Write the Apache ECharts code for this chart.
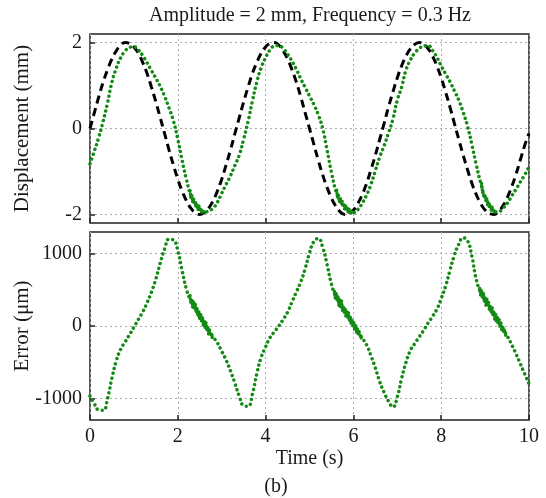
<!DOCTYPE html>
<html>
<head>
<meta charset="utf-8">
<script src="https://cdn.jsdelivr.net/npm/echarts@6/dist/echarts.min.js"></script>
<style>
html,body{margin:0;padding:0;background:#fff;}
#chart{width:546px;height:498px;}
</style>
</head>
<body>
<div id="chart"></div>
<script>
// ---------- data ----------
const titleText = 'Amplitude = 2 mm, Frequency = 0.3 Hz';
const xTicks = [0, 2, 4, 6, 8, 10];
const dispTicks = [-2, 0, 2];
const errTicks = [-1000, 0, 1000];

// sample times 0..10 s every 0.1 s
const sampleStep = 0.1;

// reference (black dashed) displacement, mm
const refDisp = [
 0.00, 0.37, 0.74, 1.08, 1.37, 1.62, 1.81, 1.94, 2.00, 1.98,
 1.90, 1.75, 1.54, 1.28, 0.96, 0.62, 0.25, -0.12, -0.50, -0.85,
 -1.18, -1.46, -1.69, -1.86, -1.96, -2.00, -1.96, -1.86, -1.69, -1.46,
 -1.18, -0.85, -0.50, -0.12, 0.25, 0.62, 0.96, 1.28, 1.54, 1.75,
 1.90, 1.98, 2.00, 1.94, 1.81, 1.62, 1.37, 1.08, 0.74, 0.37,
 0.00, -0.37, -0.74, -1.08, -1.37, -1.62, -1.81, -1.94, -2.00, -1.98,
 -1.90, -1.75, -1.54, -1.28, -0.96, -0.62, -0.25, 0.12, 0.50, 0.85,
 1.18, 1.46, 1.69, 1.86, 1.96, 2.00, 1.96, 1.86, 1.69, 1.46,
 1.18, 0.85, 0.50, 0.12, -0.25, -0.62, -0.96, -1.28, -1.54, -1.75,
 -1.90, -1.98, -2.00, -1.94, -1.81, -1.62, -1.37, -1.08, -0.74, -0.40,
 -0.12
];

// measured (green dotted) displacement, mm
const measDisp = [
 -0.82, -0.52, -0.20, 0.17, 0.60, 1.08, 1.41, 1.65, 1.80, 1.89,
 1.90, 1.83, 1.70, 1.53, 1.35, 1.17, 0.98, 0.75, 0.48, 0.18,
 -0.25, -0.75, -1.20, -1.56, -1.75, -1.88, -1.95, -1.92, -1.86, -1.72,
 -1.51, -1.30, -1.10, -0.86, -0.62, -0.25, 0.16, 0.64, 1.08, 1.42,
 1.65, 1.83, 1.92, 1.93, 1.86, 1.73, 1.57, 1.38, 1.16, 0.96,
 0.76, 0.56, 0.32, 0.00, -0.50, -1.02, -1.45, -1.68, -1.82, -1.92,
 -1.96, -1.89, -1.74, -1.55, -1.30, -0.98, -0.66, -0.40, -0.10, 0.22,
 0.66, 0.97, 1.37, 1.60, 1.76, 1.86, 1.92, 1.93, 1.82, 1.66,
 1.46, 1.27, 1.09, 0.88, 0.66, 0.38, 0.05, -0.38, -0.85, -1.27,
 -1.60, -1.78, -1.92, -1.94, -1.86, -1.75, -1.58, -1.42, -1.25, -1.08,
 -0.90
];

// tracking error, µm
const errorVals = [
 -968, -1080, -1160, -1165, -1000, -720, -480, -320, -220, -120,
 -15, 90, 195, 320, 470, 650, 870, 1065, 1200, 1190,
 1040, 760, 500, 348, 246, 145, 43, -59, -150, -230,
 -350, -470, -620, -790, -970, -1100, -1110, -940, -660, -430,
 -290, -160, -80, 0, 90, 190, 330, 470, 610, 790,
 1010, 1170, 1210, 1090, 850, 580, 408, 311, 214, 118,
 22, -75, -165, -260, -410, -580, -770, -920, -1040, -1120,
 -980, -720, -500, -335, -240, -150, -60, 40, 130, 230,
 380, 550, 770, 980, 1130, 1220, 1180, 960, 640, 464,
 365, 265, 166, 66, -34, -133, -250, -380, -520, -660,
 -800
];

// noisy (thick) stretches, sampled every 0.02 s
const noiseStep = 0.02;
const dispNoiseStart = [2.28, 5.62, 8.92];
const dispNoise1 = [-1.45, -1.61, -1.56, -1.71, -1.64, -1.76, -1.69, -1.83, -1.77, -1.89, -1.81, -1.92, -1.85, -1.95, -1.90, -1.97, -1.93];
const dispNoise2 = [-1.44, -1.60, -1.55, -1.70, -1.63, -1.76, -1.68, -1.81, -1.75, -1.87, -1.80, -1.91, -1.83, -1.94, -1.88, -1.96, -1.91, -1.97, -1.94];
const dispNoise3 = [-1.28, -1.46, -1.43, -1.61, -1.55, -1.69, -1.63, -1.78, -1.73, -1.85, -1.78, -1.90, -1.83, -1.94, -1.89, -1.96, -1.92];

const errNoiseStart = [2.28, 5.57, 8.88];
const errNoise1 = [418, 308, 363, 252, 332, 237, 306, 181, 246, 135, 195, 85, 174, 69, 129, 13, 83, -22, 57, -58, -3, -109, -39, -129, -95, -160, -150];
const errNoise2 = [477, 373, 453, 344, 410, 285, 366, 262, 342, 213, 279, 179, 255, 126, 206, 112, 183, 63, 129, 20, 95, -9, 47, -63, 23, -86, -36, -120, -79, -144, -128, -172];
const errNoise3 = [519, 414, 489, 384, 459, 340, 405, 285, 375, 270, 330, 210, 285, 180, 265, 145, 201, 96, 171, 51, 126, 31, 96, -19, 46, -54, 1, -84, -49, -118, -93, -148, -143];

// ---------- build ----------
function pairs(vals, t0, step) {
  return vals.map((v, i) => [+(t0 + i * step).toFixed(3), v]);
}
const GREEN = '#138a13';
const FONT = 'Liberation Serif';
const TXT = '#1a1a1a';

const dotStyle = { color: GREEN, width: 3.5, type: [0.01, 5], cap: 'round' };

function noiseSeries(vals, t0, xi, yi) {
  return {
    type: 'line', xAxisIndex: xi, yAxisIndex: yi, data: pairs(vals, t0, noiseStep),
    showSymbol: false, smooth: false, lineStyle: Object.assign({}, dotStyle, { type: [0.01, 3.2] }),
    silent: true, z: 4
  };
}

const grids = [
  { left: 90, right: 17, top: 34, height: 189, show: true, borderColor: '#222', borderWidth: 1.5,
    backgroundColor: 'transparent', containLabel: false, outerBoundsMode: 'none' },
  { left: 90, right: 17, top: 232, height: 188, show: true, borderColor: '#222', borderWidth: 1.5,
    backgroundColor: 'transparent', containLabel: false, outerBoundsMode: 'none' }
];

function xAxis(gi, showLabels) {
  return {
    type: 'value', gridIndex: gi, min: 0, max: 10, interval: 2, position: 'bottom',
    axisLine: { show: false, onZero: false },
    axisTick: { show: true, inside: true, length: 5, lineStyle: { color: '#222', width: 1.5 } },
    axisLabel: { show: showLabels, fontFamily: FONT, fontSize: 20, color: TXT, margin: 7,
                 formatter: v => String(v) },
    splitLine: { show: true, lineStyle: { color: '#aaa', width: 1, type: [2, 3] } },
    name: showLabels ? 'Time (s)' : '', nameLocation: 'middle', nameGap: 29, nameMoveOverlap: false,
    nameTextStyle: { fontFamily: FONT, fontSize: 20, color: TXT }
  };
}
function yAxis(gi, lo, hi, ticks, name) {
  return {
    type: 'value', gridIndex: gi, min: lo, max: hi, position: 'left',
    axisLine: { show: false, onZero: false },
    axisTick: { show: true, inside: true, length: 5, customValues: ticks, lineStyle: { color: '#222', width: 1.5 } },
    axisLabel: { fontFamily: FONT, fontSize: 20, color: TXT, margin: 8, customValues: ticks,
                 formatter: v => String(v) },
    splitLine: { show: true, lineStyle: { color: '#aaa', width: 1, type: [2, 3] } },
    name: name, nameLocation: 'middle', nameGap: 57, nameMoveOverlap: false,
    nameTextStyle: { fontFamily: FONT, fontSize: 21, color: TXT }
  };
}

const option = {
  animation: false,
  backgroundColor: '#fff',
  grid: grids,
  xAxis: [xAxis(0, false), xAxis(1, true)],
  yAxis: [yAxis(0, -2.2, 2.2, dispTicks, 'Displacement (mm)'), yAxis(1, -1300, 1300, errTicks, 'Error (μm)')],
  graphic: [
    { type: 'text', left: 309 - 160, top: 6, style: { text: titleText, font: '20px "Liberation Serif"', fill: TXT, width: 320, align: 'center' } },
    { type: 'text', x: 276, y: 487, style: { text: '(b)', font: '20px "Liberation Serif"', fill: TXT, align: 'center', verticalAlign: 'middle' } }
  ],
  series: [
    { type: 'line', xAxisIndex: 0, yAxisIndex: 0, data: pairs(refDisp, 0, sampleStep), smooth: true, showSymbol: false,
      lineStyle: { color: '#000', width: 3, type: [8, 5] }, z: 3 },
    { type: 'line', xAxisIndex: 0, yAxisIndex: 0, data: pairs(measDisp, 0, sampleStep), smooth: true, showSymbol: false,
      lineStyle: dotStyle, z: 4 },
    noiseSeries(dispNoise1, dispNoiseStart[0], 0, 0),
    noiseSeries(dispNoise2, dispNoiseStart[1], 0, 0),
    noiseSeries(dispNoise3, dispNoiseStart[2], 0, 0),
    { type: 'line', xAxisIndex: 1, yAxisIndex: 1, data: pairs(errorVals, 0, sampleStep), smooth: true, showSymbol: false,
      lineStyle: dotStyle, z: 4 },
    noiseSeries(errNoise1, errNoiseStart[0], 1, 1),
    noiseSeries(errNoise2, errNoiseStart[1], 1, 1),
    noiseSeries(errNoise3, errNoiseStart[2], 1, 1)
  ]
};

const chart = echarts.init(document.getElementById('chart'), null, { renderer: 'canvas' });
chart.setOption(option);
</script>
</body>
</html>
